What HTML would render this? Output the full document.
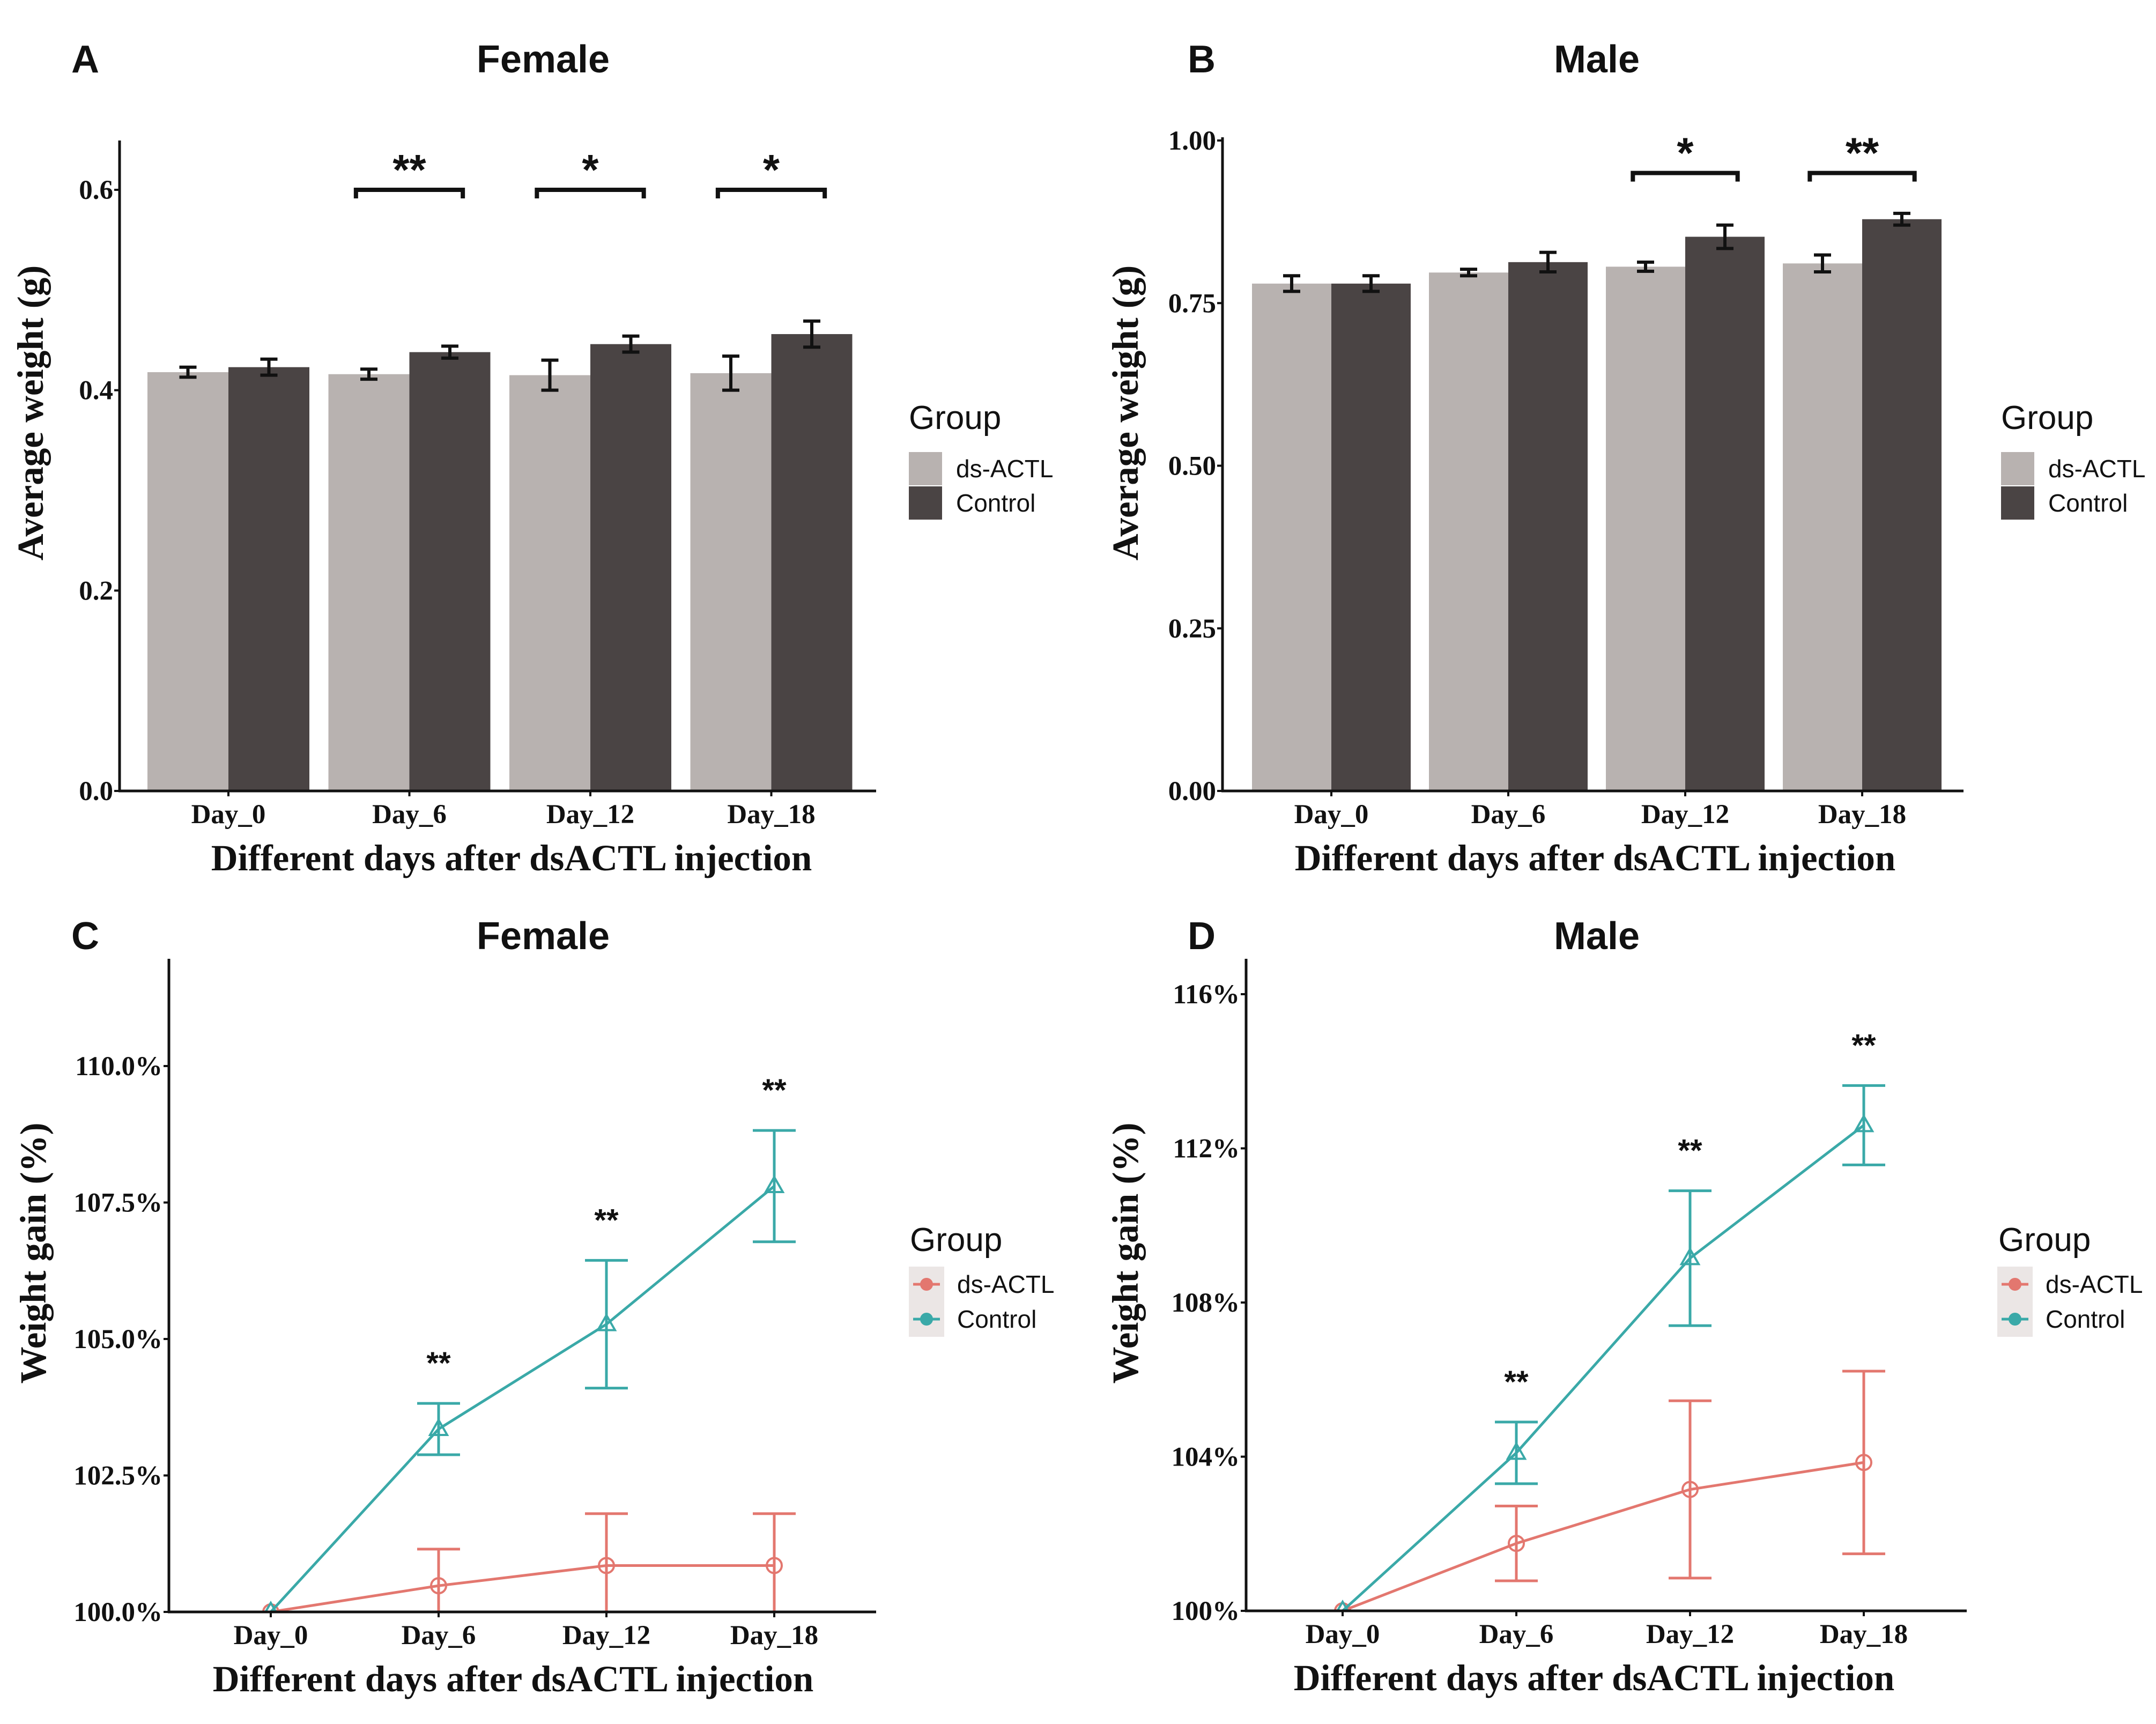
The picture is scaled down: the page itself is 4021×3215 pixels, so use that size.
<!DOCTYPE html>
<html><head><meta charset="utf-8"><title>Weight charts</title>
<style>
html,body{margin:0;padding:0;background:#fff;}
svg{display:block;}
.tk{font-family:"Liberation Serif",serif;font-weight:bold;font-size:51px;fill:#111;}
.ax{font-family:"Liberation Serif",serif;font-weight:bold;font-size:69px;fill:#111;}
.ttl{font-family:"Liberation Sans",sans-serif;font-weight:bold;font-size:72px;fill:#111;}
.lg{font-family:"Liberation Sans",sans-serif;font-size:46px;fill:#111;}
.lgt{font-family:"Liberation Sans",sans-serif;font-size:62px;fill:#111;}
.st{font-family:"Liberation Sans",sans-serif;font-weight:bold;fill:#111;}
</style></head>
<body>
<svg id="fig" xmlns="http://www.w3.org/2000/svg" width="4021" height="3215" viewBox="0 0 4021 3215"></svg>
<script>
// ---- data ----
const categories = ["Day_0","Day_6","Day_12","Day_18"];
const groups = ["ds-ACTL","Control"];
// Panel A (Female, average weight g)
const aDsMean = [0.418,0.416,0.415,0.417];
const aDsErr  = [0.005,0.005,0.015,0.017];
const aCtMean = [0.423,0.438,0.446,0.456];
const aCtErr  = [0.008,0.006,0.008,0.013];
const aTicks  = [0.0,0.2,0.4,0.6];
const aTickLabels = ["0.0","0.2","0.4","0.6"];
const aSig    = ["","**","*","*"];
const aSigLevel = 0.6;
// Panel B (Male, average weight g)
const bDsMean = [0.780,0.797,0.806,0.811];
const bDsErr  = [0.012,0.005,0.007,0.013];
const bCtMean = [0.780,0.813,0.852,0.879];
const bCtErr  = [0.012,0.015,0.018,0.009];
const bTicks  = [0,0.25,0.5,0.75,1.0];
const bTickLabels = ["0.00","0.25","0.50","0.75","1.00"];
const bSig    = ["","","*","**"];
const bSigLevel = 0.95;
// Panel C (Female, weight gain %)
const cDsMean = [100,100.48,100.85,100.85];
const cDsErr  = [0,0.67,0.95,0.95];
const cCtMean = [100,103.35,105.27,107.8];
const cCtErr  = [0,0.47,1.17,1.02];
const cTicks  = [100,102.5,105,107.5,110];
const cTickLabels = ["100.0%","102.5%","105.0%","107.5%","110.0%"];
const cSig    = ["","**","**","**"];
// Panel D (Male, weight gain %)
const dDsMean = [100,101.75,103.15,103.85];
const dDsErr  = [0,0.97,2.3,2.37];
const dCtMean = [100,104.1,109.15,112.6];
const dCtErr  = [0,0.8,1.75,1.03];
const dTicks  = [100,104,108,112,116];
const dTickLabels = ["100%","104%","108%","112%","116%"];
const dSig    = ["","**","**","**"];

const NS="http://www.w3.org/2000/svg";
const svg=document.getElementById('fig');
function el(tag,attrs,parent,text){const e=document.createElementNS(NS,tag);for(const k in attrs)e.setAttribute(k,attrs[k]);if(text!==undefined)e.textContent=text;(parent||svg).appendChild(e);return e;}

const BAR_DS="#b8b2b0", BAR_CT="#4a4444", RED="#e3776f", TEAL="#3aa9a8";

function frame(p,g){
  const ya=el('line',{x1:p.x0,y1:p.yTop,x2:p.x0,y2:p.y0,stroke:'#111','stroke-width':5},g);
  
  const xa=el('line',{x1:p.x0-2,y1:p.y0,x2:p.x1,y2:p.y0,stroke:'#111','stroke-width':5},g);
  
  p.ticks.forEach((v,i)=>{
    const y=p.sy(v);
    el('line',{x1:p.x0-10,y1:y,x2:p.x0,y2:y,stroke:'#111','stroke-width':4},g);
    const t=el('text',{x:p.x0-12,y:y+17,'text-anchor':'end',class:'tk'},g,p.tickLabels[i]);
    
  });
  categories.forEach((c,i)=>{
    const x=p.sx(i);
    el('line',{x1:x,y1:p.y0,x2:x,y2:p.y0+10,stroke:'#111','stroke-width':4},g);
    const t=el('text',{x:x,y:p.y0+60,'text-anchor':'middle',class:'tk'},g,c);
    
  });
  const yt=el('text',{x:0,y:0,'text-anchor':'middle',class:'ax',transform:`translate(${p.ytx},${p.yty}) rotate(-90)`},g,p.ytitle);
  
  const xt=el('text',{x:p.xtx,y:p.y0+148,'text-anchor':'middle',class:'ax'},g,"Different days after dsACTL injection");
  
  const tt=el('text',{x:p.tx,y:p.ty,'text-anchor':'middle',class:'ttl'},g,p.title);
  
  const lt=el('text',{x:p.lx,y:p.ty,class:'ttl'},g,p.letter);
  
}

function barPanel(p,ds,dsE,ct,ctE,sig,sigLevel){
  const g=el('g',{});
  
  const bw=p.bw;
  [[ds,dsE,BAR_DS,-1,'ds-actl'],[ct,ctE,BAR_CT,0,'control']].forEach(([m,e,col,off,nm])=>{
    m.forEach((v,i)=>{
      const x=p.sx(i)+off*bw;
      const r=el('rect',{x:x,y:p.sy(v),width:bw,height:p.y0-p.sy(v),fill:col},g);
      
    });
  });
  [[ds,dsE,-0.5],[ct,ctE,0.5]].forEach(([m,e,off])=>{
    m.forEach((v,i)=>{
      const cx=p.sx(i)+off*bw, y1=p.sy(v+e[i]), y2=p.sy(v-e[i]);
      const eb=el('path',{d:`M${cx-16},${y1}H${cx+16}M${cx},${y1}V${y2}M${cx-16},${y2}H${cx+16}`,stroke:'#111','stroke-width':6,fill:'none'},g);
      
    });
  });
  sig.forEach((s,i)=>{
    if(!s)return;
    const y=p.sy(sigLevel), xa=p.sx(i)-bw*0.66, xb=p.sx(i)+bw*0.66;
    const br=el('path',{d:`M${xa},${y+16}V${y}H${xb}V${y+16}`,stroke:'#111','stroke-width':8,fill:'none'},g);
    
    const t=el('text',{x:p.sx(i),y:y-10,'text-anchor':'middle',class:'st','font-size':80},g,s);
    
  });
  frame(p,g);
  const lg=el('g',{},g);
  
  const gt=el('text',{x:p.legx,y:p.legy,class:'lgt'},lg,"Group");
  
  [BAR_DS,BAR_CT].forEach((c,i)=>{
    const y=p.legy+43+i*64;
    el('rect',{x:p.legx,y:y,width:62,height:62,fill:c},lg);
    const t=el('text',{x:p.legx+88,y:y+47,class:'lg'},lg,groups[i]);
    
  });
}

function linePanel(p,ds,dsE,ct,ctE,sig){
  const g=el('g',{});
  
  const cid='clip-'+p.name;
  const cp=el('clipPath',{id:cid},g);
  el('rect',{x:p.x0,y:p.yTop,width:p.x1-p.x0,height:p.y0-p.yTop+1},cp);
  const plot=el('g',{'clip-path':`url(#${cid})`},g);
  [[ds,dsE,RED,'ds-actl','circle'],[ct,ctE,TEAL,'control','tri']].forEach(([m,e,col,nm,shape])=>{
    m.forEach((v,i)=>{
      if(!e[i])return;
      const cx=p.sx(i), y1=p.sy(v+e[i]), y2=p.sy(v-e[i]);
      const eb=el('path',{d:`M${cx-40},${y1}H${cx+40}M${cx},${y1}V${y2}M${cx-40},${y2}H${cx+40}`,stroke:col,'stroke-width':5,fill:'none'},plot);
      
    });
    const pts=m.map((v,i)=>`${p.sx(i)},${p.sy(v)}`).join(' ');
    const ln=el('polyline',{points:pts,stroke:col,'stroke-width':5,fill:'none'},plot);
    
    m.forEach((v,i)=>{
      const cx=p.sx(i), cy=p.sy(v);
      let mk;
      if(shape==='circle') mk=el('circle',{cx:cx,cy:cy,r:14,stroke:col,'stroke-width':4,fill:'none'},plot);
      else mk=el('path',{d:`M${cx},${cy-17}L${cx+16},${cy+11}L${cx-16},${cy+11}Z`,stroke:col,'stroke-width':4,fill:'none'},plot);
      
    });
  });
  sig.forEach((s,i)=>{
    if(!s)return;
    const t=el('text',{x:p.sx(i),y:p.sy(ct[i]+ctE[i])-55,'text-anchor':'middle',class:'st','font-size':58},g,s);
    
  });
  frame(p,g);
  const lg=el('g',{},g);
  
  const gt=el('text',{x:p.legx,y:p.legy,class:'lgt'},lg,"Group");
  
  el('rect',{x:p.legx-2,y:p.legy+29,width:66,height:131,fill:'#ebe6e5'},lg);
  [RED,TEAL].forEach((c,i)=>{
    const y=p.legy+62+i*65;
    el('line',{x1:p.legx+6,y1:y,x2:p.legx+56,y2:y,stroke:c,'stroke-width':5},lg);
    el('circle',{cx:p.legx+31,cy:y,r:12,fill:c},lg);
    const t=el('text',{x:p.legx+88,y:y+16,class:'lg'},lg,groups[i]);
    
  });
}

function mk(o){
  o.sy=v=>o.y0-(v-o.vmin)/(o.vmax-o.vmin)*(o.y0-o.yv);
  o.sx=i=>o.c0+i*o.step;
  return o;
}

barPanel(mk({name:'panel-a-female-bars',x0:223,x1:1634,y0:1475,yTop:262,yv:354,vmin:0,vmax:0.6,c0:426,step:337.5,bw:151,
  ticks:aTicks,tickLabels:aTickLabels,ytitle:"Average weight (g)",ytx:80,yty:770,xtx:954,title:"Female",tx:1013,ty:135,lx:133,letter:"A",legx:1695,legy:800}),
  aDsMean,aDsErr,aCtMean,aCtErr,aSig,aSigLevel);

barPanel(mk({name:'panel-b-male-bars',x0:2280,x1:3662,y0:1475,yTop:256,yv:262,vmin:0,vmax:1.0,c0:2483,step:330,bw:148,
  ticks:bTicks,tickLabels:bTickLabels,ytitle:"Average weight (g)",ytx:2122,yty:770,xtx:2975,title:"Male",tx:2978,ty:135,lx:2215,letter:"B",legx:3732,legy:800}),
  bDsMean,bDsErr,bCtMean,bCtErr,bSig,bSigLevel);

linePanel(mk({name:'panel-c-female-gain',x0:315,x1:1634,y0:3006,yTop:1788,yv:1988,vmin:100,vmax:110,c0:505,step:313,
  ticks:cTicks,tickLabels:cTickLabels,ytitle:"Weight gain (%)",ytx:85,yty:2337,xtx:957,title:"Female",tx:1013,ty:1770,lx:133,letter:"C",legx:1697,legy:2333}),
  cDsMean,cDsErr,cCtMean,cCtErr,cSig);

linePanel(mk({name:'panel-d-male-gain',x0:2324,x1:3668,y0:3004,yTop:1788,yv:1854,vmin:100,vmax:116,c0:2504,step:324,
  ticks:dTicks,tickLabels:dTickLabels,ytitle:"Weight gain (%)",ytx:2122,yty:2337,xtx:2973,title:"Male",tx:2978,ty:1770,lx:2215,letter:"D",legx:3727,legy:2333}),
  dDsMean,dDsErr,dCtMean,dCtErr,dSig);
</script>
</body></html>
